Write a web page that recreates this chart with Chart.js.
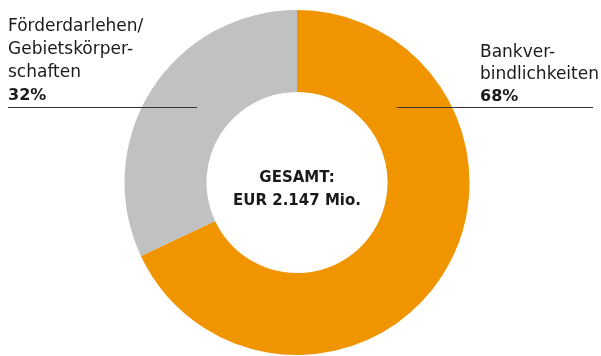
<!DOCTYPE html>
<html>
<head>
<meta charset="utf-8">
<script src="https://cdn.jsdelivr.net/npm/chart.js@4/dist/chart.umd.min.js"></script>
<style>
  html, body { margin: 0; padding: 0; background: #fff; }
  #wrap { width: 601px; height: 356px; position: relative; }
</style>
</head>
<body>
<div id="wrap"><canvas id="myChart" width="601" height="356"></canvas></div>
<script>
// Finanzierungsstruktur
const categories = ['Bankverbindlichkeiten', 'Förderdarlehen/Gebietskörperschaften'];
const shares = [68, 32];
const colors = ['#F09400', '#C0C1C3'];
const labelLines = [
    ['Bankver-', 'bindlichkeiten'],
    ['Förderdarlehen/', 'Gebietskörper-', 'schaften']
];
const totalLines = ['GESAMT:', 'EUR 2.147 Mio.'];

// text blocks beside the ring, with a rule under each
const calloutPlugin = {
    id: 'callouts',
    afterDraw(chart) {
        const ctx = chart.ctx;
        const meta = chart.getDatasetMeta(0);
        const arc = meta.data[0];
        ctx.save();
        ctx.fillStyle = '#1a1a1a';
        ctx.textBaseline = 'alphabetic';

        // right block (first slice)
        ctx.textAlign = 'left';
        ctx.font = '17px "DejaVu Sans"';
        ctx.fillText(labelLines[0][0], 480, 57);
        ctx.fillText(labelLines[0][1], 480, 79);
        ctx.font = 'bold 16px "DejaVu Sans"';
        ctx.fillText(shares[0] + '%', 480, 101);

        // left block (second slice)
        ctx.font = '17px "DejaVu Sans"';
        ctx.fillText(labelLines[1][0], 8, 31);
        ctx.fillText(labelLines[1][1], 8, 54);
        ctx.fillText(labelLines[1][2], 8, 77);
        ctx.font = 'bold 16px "DejaVu Sans"';
        ctx.fillText(shares[1] + '%', 8, 100);

        ctx.strokeStyle = '#333';
        ctx.lineWidth = 1;
        ctx.beginPath();
        ctx.moveTo(8, 107.5);
        ctx.lineTo(197, 107.5);
        ctx.moveTo(397, 107.5);
        ctx.lineTo(593, 107.5);
        ctx.stroke();

        // total in the hole
        ctx.textAlign = 'center';
        ctx.font = 'bold 15px "DejaVu Sans"';
        ctx.fillText(totalLines[0], arc.x, 182);
        ctx.fillText(totalLines[1], arc.x, 205);
        ctx.restore();
    }
};

const ctx = document.getElementById('myChart').getContext('2d');
const myChart = new Chart(ctx, {
    type: 'doughnut',
    data: {
        labels: categories,
        datasets: [{
            data: shares,
            backgroundColor: colors,
            borderWidth: 0
        }]
    },
    options: {
        responsive: false,
        animation: false,
        cutout: '52.5%',
        layout: {
            padding: { top: 10, bottom: 1, left: 0, right: 7 }
        },
        plugins: {
            legend: { display: false },
            tooltip: { enabled: false }
        }
    },
    plugins: [calloutPlugin]
});
</script>
</body>
</html>
